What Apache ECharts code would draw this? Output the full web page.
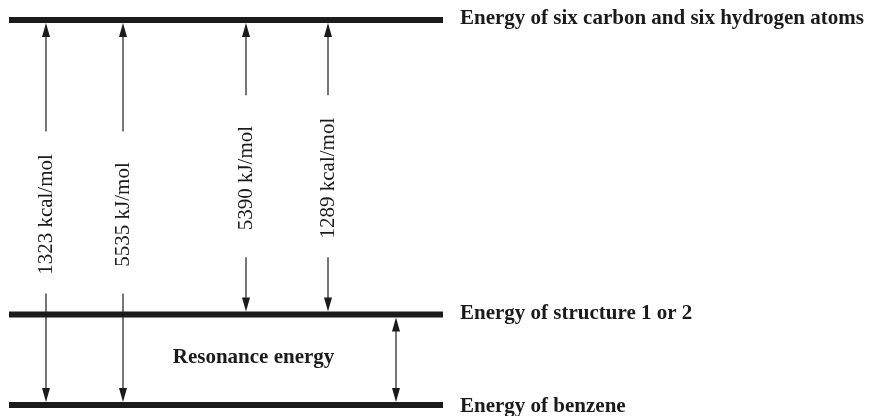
<!DOCTYPE html>
<html>
<head>
<meta charset="utf-8">
<script src="https://cdn.jsdelivr.net/npm/echarts@6/dist/echarts.min.js"></script>
<style>
html,body{margin:0;padding:0;background:#fff;}
#chart{width:871px;height:416px;}
</style>
</head>
<body>
<div id="chart"></div>
<script>
// ---- data (schematic energy diagram, not to scale) ----
const levelNames = ['Energy of benzene', 'Energy of structure 1 or 2', 'Energy of six carbon and six hydrogen atoms'];
const levelValues = [0, 1, 4.25];            // schematic level heights
const arrowLabels = ['1323 kcal/mol', '5535 kJ/mol', '5390 kJ/mol', '1289 kcal/mol'];
const arrowFromLevel = [0, 0, 1, 1];
const arrowToLevel = [2, 2, 2, 2];
const resonanceLabel = 'Resonance energy';
const resonanceFrom = 0, resonanceTo = 1;

// ---- layout (diagram x units) ----
const barX = [9, 443];
const arrowXs = [46, 123, 246, 328];
const resonanceX = 396;
const resonanceLabelX = 253.5;
const labelFrac = [0.5, 0.5, 0.531, 0.531];
const labelShift = [2, 2, 2, 2];
const levelLabelDy = [2, -1, -1];

const INK = '#1b1b1b';
const SERIF = '"Liberation Serif","Times New Roman",Times,serif';
const BAR_W = 6, HALF = 3, HEAD_L = 14, HEAD_W = 8, GAP = 81;

function head(x, tipY, dir) { // dir -1 = pointing up, +1 = pointing down
  const b = tipY - dir * HEAD_L;
  return { type: 'polygon', shape: { points: [[x, tipY], [x - HEAD_W / 2, b], [x + HEAD_W / 2, b]] }, style: { fill: INK } };
}
function seg(x, y1, y2) {
  return { type: 'line', shape: { x1: x, y1: y1, x2: x, y2: y2 }, style: { stroke: INK, lineWidth: 1.2 } };
}

const chart = echarts.init(document.getElementById('chart'), null, { renderer: 'canvas' });
chart.setOption({
  animation: false,
  backgroundColor: '#ffffff',
  grid: { left: 0, right: 0, top: 20, bottom: 11 },
  xAxis: { type: 'value', min: 0, max: 871, show: false },
  yAxis: { type: 'value', min: 0, max: 4.25, show: false },
  series: [
    {
      type: 'custom', name: 'levels', clip: false,
      data: levelValues.map((v, i) => [v, i]),
      renderItem: function (params, api) {
        const v = api.value(0), i = api.value(1);
        const p1 = api.coord([barX[0], v]), p2 = api.coord([barX[1], v]);
        return { type: 'group', children: [
          { type: 'line', shape: { x1: p1[0], y1: p1[1], x2: p2[0], y2: p2[1] }, style: { stroke: INK, lineWidth: BAR_W } },
          { type: 'text', x: p2[0] + 17, y: p2[1] + levelLabelDy[i],
            style: { text: levelNames[i], fill: INK, font: 'bold 21px ' + SERIF, align: 'left', verticalAlign: 'middle' } }
        ] };
      }
    },
    {
      type: 'custom', name: 'arrows', clip: false,
      data: arrowLabels.map((t, i) => [i, levelValues[arrowFromLevel[i]], levelValues[arrowToLevel[i]]]),
      renderItem: function (params, api) {
        const i = api.value(0);
        const x = api.coord([arrowXs[i], 0])[0];
        const yLow = api.coord([arrowXs[i], api.value(1)])[1] - HALF;
        const yHigh = api.coord([arrowXs[i], api.value(2)])[1] + HALF;
        const yc = yHigh + labelFrac[i] * (yLow - yHigh);
        return { type: 'group', children: [
          head(x, yHigh, -1),
          seg(x, yHigh + HEAD_L - 1, yc - GAP),
          seg(x, yc + GAP, yLow - HEAD_L + 1),
          head(x, yLow, 1),
          { type: 'text', x: x, y: yc + labelShift[i], rotation: Math.PI / 2,
            style: { text: arrowLabels[i], fill: INK, font: '21px ' + SERIF, align: 'center', verticalAlign: 'middle' } }
        ] };
      }
    },
    {
      type: 'custom', name: 'resonance', clip: false,
      data: [[levelValues[resonanceFrom], levelValues[resonanceTo]]],
      renderItem: function (params, api) {
        const x = api.coord([resonanceX, 0])[0];
        const yLow = api.coord([resonanceX, api.value(0)])[1] - HALF;
        const yHigh = api.coord([resonanceX, api.value(1)])[1] + HALF;
        const lx = api.coord([resonanceLabelX, 0])[0];
        return { type: 'group', children: [
          head(x, yHigh, -1),
          seg(x, yHigh + HEAD_L - 1, yLow - HEAD_L + 1),
          head(x, yLow, 1),
          { type: 'text', x: lx, y: (yLow + yHigh) / 2 - 2,
            style: { text: resonanceLabel, fill: INK, font: 'bold 21px ' + SERIF, align: 'center', verticalAlign: 'middle' } }
        ] };
      }
    }
  ]
});
</script>
</body>
</html>
